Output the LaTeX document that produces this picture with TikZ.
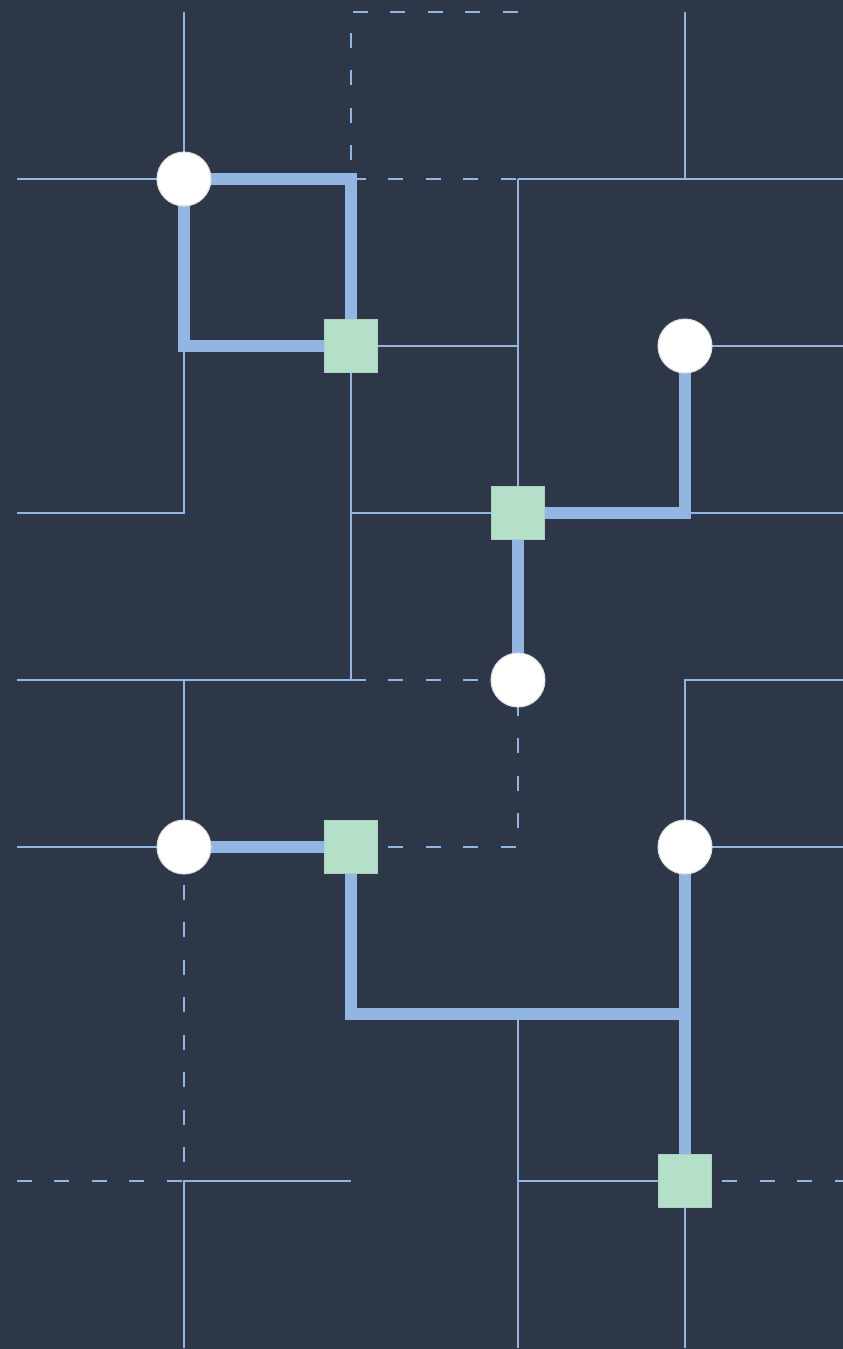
\documentclass[tikz,border=0pt]{standalone}
\definecolor{slate}{HTML}{2D3748}
\definecolor{wire}{HTML}{93B5E1}
\definecolor{mint}{HTML}{B4DFC9}
\pgfdeclarelayer{back}
\pgfdeclarelayer{wires}
\pgfsetlayers{back,wires,main}
\begin{document}
\begin{tikzpicture}[x=1.67cm, y=-1.67cm,
		lattice/.style={draw=wire, line width=0.6pt},
		broken/.style={draw=wire, line width=0.6pt, dash pattern=on 1.5mm off 2.25mm},
		chain/.style={draw=wire, line width=1.25mm},
		qubit/.style={draw=gray!25, line width=0.3pt, circle, fill=white, minimum size=0.54cm, inner sep=0pt},
		check/.style={draw=mint!85!gray, line width=0.3pt, rectangle, fill=mint, minimum size=0.53cm, inner sep=0pt}]
		\useasboundingbox (-0.1018,-0.0719) rectangle (4.9461,8.0060);
		\begin{pgfonlayer}{back}
			\fill[slate] (-0.1018,-0.0719) rectangle (4.9461,8.0060);
		\end{pgfonlayer}

		\foreach \i in {0,...,5}
			\foreach \j in {0,...,8}
				\coordinate (g\i\j) at (\i,\j);

		\node[qubit] (q1) at (1,1) {};
		\node[qubit] (q2) at (4,2) {};
		\node[qubit] (q3) at (3,4) {};
		\node[qubit] (q4) at (1,5) {};
		\node[qubit] (q5) at (4,5) {};
		\node[check] (c1) at (2,2) {};
		\node[check] (c2) at (3,3) {};
		\node[check] (c3) at (2,5) {};
		\node[check] (c4) at (4,7) {};

		\begin{pgfonlayer}{wires}
			\draw[lattice] (g10) -- (q1.center);
			\draw[lattice] (g01) -- (q1.center);
			\draw[lattice] (g03) -| (g12);
			\draw[lattice] (c1.center) -- (g32);
			\draw[lattice] (c1.center) |- (g04);
			\draw[lattice] (g23) -- (c2.center);
			\draw[lattice] (g31) -- (c2.center);
			\draw[lattice] (g31) -- (g51);
			\draw[lattice] (g40) -- (g41);
			\draw[lattice] (q2.center) -- (g52);
			\draw[lattice] (g43) -- (g53);
			\draw[lattice] (g14) -- (q4.center);
			\draw[lattice] (g05) -- (q4.center);
			\draw[lattice] (g54) -| (q5.center);
			\draw[lattice] (q5.center) -- (g55);
			\draw[lattice] (g36) -- (g38);
			\draw[lattice] (g27) -| (g18);
			\draw[lattice] (g37) -- (c4.center);
			\draw[lattice] (c4.center) -- (g48);

			\draw[broken] (g30) -- (g20) -- (g21);
			\draw[broken] (g21) -- (g31);
			\draw[broken] (g24) -- (q3.center) -- (g35);
			\draw[broken] (c3.center) -- (g35);
			\draw[broken] (q4.center) -- (g17);
			\draw[broken] (g07) -- (g17);
			\draw[broken] (c4.center) -- (g57);

			\draw[chain] (q1.center) -| (c1.center);
			\draw[chain] (q1.center) |- (c1.center);
			\draw[chain] (c2.center) -| (q2.center);
			\draw[chain] (c2.center) -- (q3.center);
			\draw[chain] (q4.center) -- (c3.center);
			\draw[chain] (c3.center) |- (g46);
			\draw[chain] (q5.center) -- (c4.center);
		\end{pgfonlayer}
	\end{tikzpicture}
\end{document}
